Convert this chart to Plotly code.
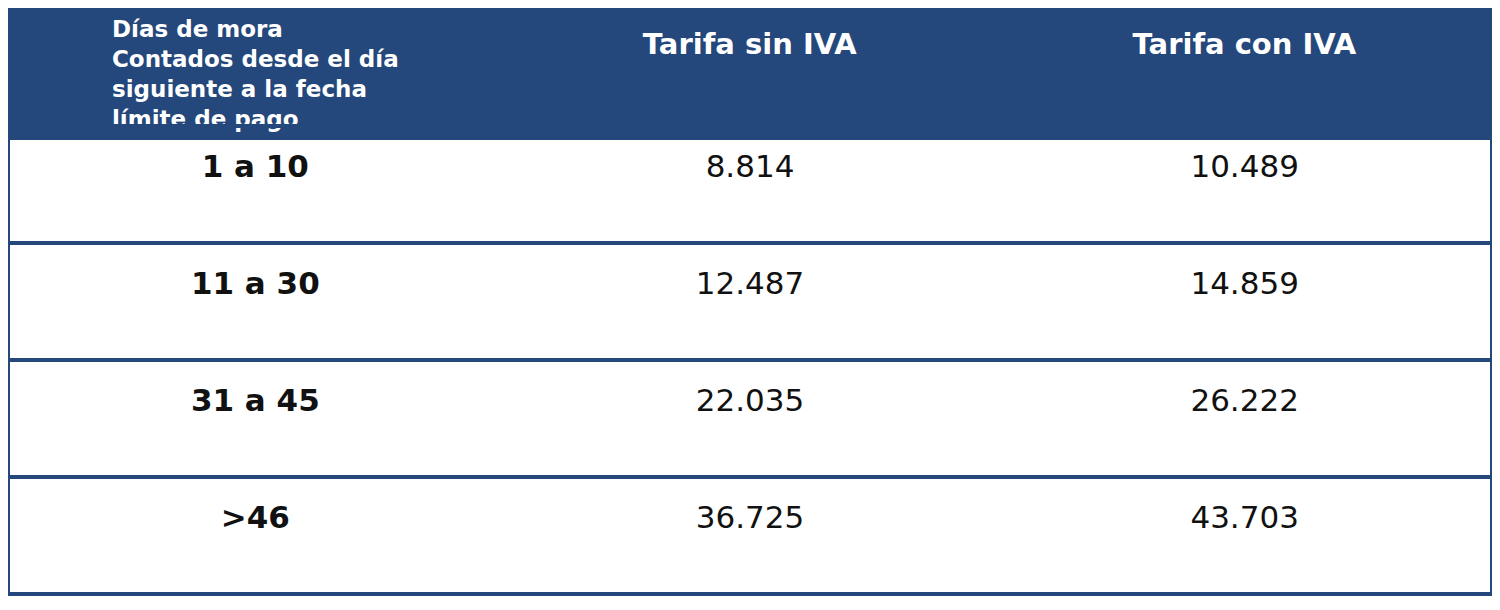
import plotly.graph_objects as go

headers = ["<b>Días de mora<br>Contados desde el día<br>siguiente a la fecha<br>límite de pago</b>",
           "<br><b>Tarifa sin IVA</b>", "<br><b>Tarifa con IVA</b>"]
dias = ["1 a 10", "11 a 30", "31 a 45", ">46"]
sin_iva = ["8.814", "12.487", "22.035", "36.725"]
con_iva = ["10.489", "14.859", "26.222", "43.703"]

blue = "#24477c"
head_h, row_h = 118, 117
top, bottom = 0, 14
area_h = 610 - top - bottom

fig = go.Figure(go.Table(
    columnwidth=[1, 1, 1],
    header=dict(values=headers, fill_color=blue, line=dict(color=blue, width=1),
                align="center", height=head_h,
                font=dict(family="DejaVu Sans", color="white", size=[23, 29, 29])),
    cells=dict(values=[[f"<br><b>{d}</b>" for d in dias],
                       ["<br>" + v for v in sin_iva],
                       ["<br>" + v for v in con_iva]],
               fill_color="white", line=dict(color="white", width=1),
               align="center", height=row_h,
               font=dict(family="DejaVu Sans", color="#111111", size=31)),
))

# row separators and frame
shapes = []
for k in range(len(dias) + 1):
    y = 1 - (head_h + k * row_h) / area_h
    shapes.append(dict(type="line", xref="paper", yref="paper", x0=0, x1=1, y0=y, y1=y,
                       line=dict(color=blue, width=4)))
y_end = 1 - (head_h + len(dias) * row_h) / area_h
for x in (0, 1):
    shapes.append(dict(type="line", xref="paper", yref="paper", x0=x, x1=x, y0=y_end, y1=1,
                       line=dict(color=blue, width=4)))

fig.update_layout(width=1484, height=610, margin=dict(l=0, r=0, t=top, b=bottom),
                  paper_bgcolor="white", shapes=shapes)
fig.write_html("out.html")
